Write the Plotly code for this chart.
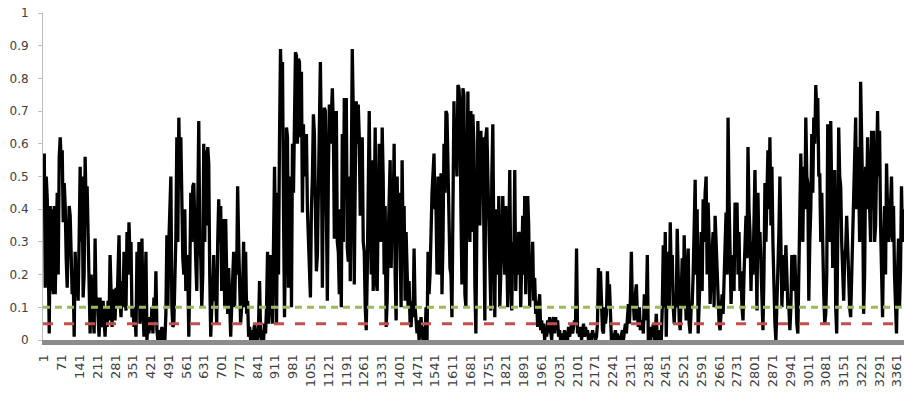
import numpy as np
import plotly.graph_objects as go

# Record length and category labels on the horizontal axis
N_RECORDS = 3386
CATEGORY_LABELS = list(range(1, 3362, 70))

# Series readings, evenly spaced across the record
VALUES = [
    0.57, 0.16, 0.5, 0.43, 0.25, 0.02, 0.41, 0.15, 0.4, 0.14,
    0.41, 0.14, 0.3, 0.45, 0.2, 0.56, 0.62, 0.55, 0.58, 0.36,
    0.48, 0.41, 0.25, 0.16, 0.3, 0.41, 0.38, 0.2, 0.14, 0.2,
    0.01, 0.27, 0.15, 0.21, 0.12, 0.31, 0.53, 0.3, 0.5, 0.13,
    0.2, 0.56, 0.4, 0.47, 0.3, 0.25, 0.02, 0.2, 0.14, 0.05,
    0.02, 0.31, 0.1, 0.13, 0.05, 0.01, 0.13, 0.05, 0.04, 0.12,
    0.06, 0.01, 0.1, 0.04, 0.12, 0.06, 0.26, 0.08, 0.04, 0.15,
    0.15, 0.06, 0.16, 0.1, 0.2, 0.32, 0.12, 0.07, 0.18, 0.1,
    0.27, 0.12, 0.09, 0.33, 0.2, 0.36, 0.25, 0.3, 0.07, 0.1,
    0.04, 0.08, 0.01, 0.27, 0.1, 0.3, 0.05, 0.2, 0.31, 0.1,
    0.01, 0.12, 0.27, 0.0, 0.05, 0.02, 0.07, 0.03, 0.1, 0.02,
    0.13, 0.06, 0.21, 0.03, 0.0, 0.03, 0.0, 0.02, 0.04, 0.0,
    0.02, 0.0, 0.08, 0.32, 0.1, 0.3, 0.4, 0.5, 0.1, 0.04,
    0.05, 0.2, 0.31, 0.62, 0.3, 0.68, 0.5, 0.62, 0.41, 0.25,
    0.2, 0.4, 0.15, 0.26, 0.2, 0.01, 0.2, 0.45, 0.3, 0.47,
    0.48, 0.3, 0.24, 0.15, 0.45, 0.67, 0.3, 0.25, 0.1, 0.2,
    0.6, 0.3, 0.58, 0.35, 0.59, 0.54, 0.2, 0.01, 0.1, 0.15,
    0.26, 0.12, 0.15, 0.05, 0.3, 0.43, 0.3, 0.41, 0.15, 0.25,
    0.37, 0.1, 0.37, 0.2, 0.08, 0.22, 0.05, 0.01, 0.1, 0.22,
    0.27, 0.1, 0.26, 0.2, 0.47, 0.3, 0.12, 0.05, 0.1, 0.16,
    0.3, 0.1, 0.27, 0.08, 0.12, 0.01, 0.04, 0.0, 0.03, 0.0,
    0.02, 0.05, 0.0, 0.02, 0.0, 0.05, 0.18, 0.02, 0.0, 0.03,
    0.0, 0.05, 0.02, 0.1, 0.27, 0.05, 0.2, 0.26, 0.1, 0.05,
    0.3, 0.53, 0.3, 0.05, 0.45, 0.2, 0.62, 0.89, 0.75, 0.85,
    0.4, 0.07, 0.3, 0.65, 0.62, 0.16, 0.4, 0.5, 0.1, 0.6,
    0.45, 0.7, 0.88, 0.87, 0.6, 0.86, 0.85, 0.62, 0.82, 0.39,
    0.66, 0.5, 0.6, 0.63, 0.4, 0.3, 0.16, 0.13, 0.4, 0.5,
    0.69, 0.63, 0.4, 0.21, 0.26, 0.5, 0.7, 0.85, 0.6, 0.16,
    0.5, 0.71, 0.7, 0.4, 0.12, 0.5, 0.72, 0.6, 0.73, 0.77,
    0.66, 0.31, 0.5, 0.7, 0.3, 0.27, 0.14, 0.4, 0.1, 0.63,
    0.3, 0.74, 0.5, 0.74, 0.28, 0.24, 0.5, 0.18, 0.5, 0.89,
    0.7, 0.17, 0.5, 0.73, 0.6, 0.72, 0.62, 0.38, 0.5, 0.62,
    0.3, 0.27, 0.1, 0.03, 0.2, 0.5, 0.7, 0.4, 0.2, 0.55,
    0.15, 0.4, 0.65, 0.18, 0.15, 0.4, 0.6, 0.45, 0.3, 0.65,
    0.5, 0.2, 0.41, 0.04, 0.12, 0.3, 0.5, 0.55, 0.22, 0.4,
    0.38, 0.6, 0.2, 0.06, 0.5, 0.3, 0.45, 0.2, 0.1, 0.55,
    0.3, 0.41, 0.12, 0.33, 0.2, 0.1, 0.18, 0.05, 0.04, 0.12,
    0.07, 0.28, 0.1, 0.05, 0.02, 0.06, 0.0, 0.03, 0.07, 0.02,
    0.0, 0.04, 0.0, 0.1, 0.0, 0.27, 0.14, 0.2, 0.35, 0.45,
    0.51, 0.57, 0.4, 0.41, 0.2, 0.5, 0.3, 0.2, 0.51, 0.14,
    0.3, 0.6, 0.45, 0.7, 0.69, 0.55, 0.3, 0.22, 0.2, 0.07,
    0.4, 0.73, 0.55, 0.6, 0.5, 0.78, 0.77, 0.72, 0.4, 0.17,
    0.77, 0.75, 0.14, 0.1, 0.5, 0.76, 0.43, 0.3, 0.7, 0.33,
    0.69, 0.6, 0.17, 0.02, 0.35, 0.67, 0.5, 0.35, 0.64, 0.5,
    0.62, 0.3, 0.06, 0.62, 0.65, 0.5, 0.33, 0.2, 0.09, 0.5,
    0.66, 0.3, 0.07, 0.4, 0.31, 0.2, 0.44, 0.1, 0.2, 0.33,
    0.44, 0.31, 0.2, 0.41, 0.3, 0.1, 0.3, 0.52, 0.2, 0.09,
    0.3, 0.22, 0.52, 0.15, 0.28, 0.2, 0.33, 0.32, 0.1, 0.22,
    0.38, 0.2, 0.44, 0.14, 0.3, 0.44, 0.35, 0.1, 0.23, 0.16,
    0.3, 0.12, 0.19, 0.08, 0.12, 0.04, 0.1, 0.14, 0.03, 0.06,
    0.02, 0.05, 0.0, 0.04, 0.01, 0.06, 0.02, 0.07, 0.03, 0.0,
    0.05, 0.07, 0.02, 0.07, 0.04, 0.06, 0.01, 0.03, 0.0, 0.02,
    0.0, 0.01, 0.03, 0.0, 0.02, 0.0, 0.04, 0.01, 0.03, 0.05,
    0.02, 0.04, 0.06, 0.05, 0.28, 0.02, 0.03, 0.01, 0.04, 0.0,
    0.03, 0.05, 0.01, 0.04, 0.02, 0.03, 0.0, 0.02, 0.01, 0.0,
    0.03, 0.01, 0.02, 0.0, 0.01, 0.05, 0.22, 0.1, 0.21, 0.08,
    0.03, 0.02, 0.1, 0.05, 0.08, 0.21, 0.1, 0.17, 0.05, 0.0,
    0.02, 0.0, 0.01, 0.03, 0.0, 0.02, 0.0, 0.01, 0.0, 0.02,
    0.03, 0.0, 0.04, 0.05, 0.02, 0.06, 0.11, 0.05, 0.12, 0.27,
    0.1, 0.11, 0.06, 0.14, 0.17, 0.08, 0.04, 0.1, 0.03, 0.06,
    0.05, 0.02, 0.14, 0.06, 0.1, 0.26, 0.0, 0.03, 0.0, 0.04,
    0.01, 0.05, 0.0, 0.02, 0.08, 0.0, 0.03, 0.0, 0.02, 0.0,
    0.1, 0.29, 0.1, 0.33, 0.01, 0.2, 0.27, 0.1, 0.36, 0.2,
    0.26, 0.1, 0.05, 0.14, 0.1, 0.34, 0.15, 0.06, 0.03, 0.15,
    0.25, 0.1, 0.32, 0.15, 0.06, 0.2, 0.28, 0.05, 0.02, 0.1,
    0.11, 0.2, 0.35, 0.49, 0.2, 0.4, 0.02, 0.1, 0.2, 0.33,
    0.15, 0.43, 0.3, 0.45, 0.5, 0.2, 0.42, 0.3, 0.11, 0.2,
    0.25, 0.33, 0.1, 0.38, 0.3, 0.22, 0.1, 0.05, 0.03, 0.1,
    0.14, 0.08, 0.2, 0.26, 0.39, 0.2, 0.68, 0.43, 0.3, 0.11,
    0.2, 0.26, 0.15, 0.42, 0.3, 0.42, 0.2, 0.33, 0.15, 0.21,
    0.1, 0.06, 0.2, 0.3, 0.38, 0.25, 0.59, 0.4, 0.33, 0.15,
    0.3, 0.2, 0.35, 0.52, 0.3, 0.09, 0.45, 0.25, 0.33, 0.2,
    0.1, 0.03, 0.2, 0.48, 0.3, 0.4, 0.58, 0.4, 0.62, 0.35,
    0.53, 0.3, 0.14, 0.05, 0.0, 0.1, 0.2, 0.33, 0.5, 0.3,
    0.1, 0.2, 0.26, 0.15, 0.29, 0.2, 0.1, 0.1, 0.03, 0.1,
    0.26, 0.15, 0.25, 0.26, 0.1, 0.05, 0.02, 0.2, 0.3, 0.57,
    0.4, 0.3, 0.53, 0.4, 0.68, 0.5, 0.48, 0.12, 0.3, 0.4,
    0.63, 0.45, 0.68, 0.6, 0.78, 0.7, 0.74, 0.5, 0.51, 0.3,
    0.45, 0.2, 0.14, 0.05, 0.08, 0.2, 0.66, 0.4, 0.3, 0.67,
    0.5, 0.22, 0.35, 0.52, 0.1, 0.02, 0.3, 0.65, 0.5, 0.47,
    0.3, 0.2, 0.12, 0.25, 0.28, 0.38, 0.3, 0.16, 0.1, 0.07,
    0.2, 0.25, 0.38, 0.5, 0.68, 0.4, 0.59, 0.5, 0.3, 0.79,
    0.64, 0.45, 0.08, 0.2, 0.53, 0.4, 0.62, 0.5, 0.48, 0.3,
    0.64, 0.4, 0.64, 0.3, 0.35, 0.6, 0.7, 0.5, 0.64, 0.35,
    0.2, 0.07, 0.3, 0.41, 0.2, 0.54, 0.4, 0.3, 0.33, 0.45,
    0.5, 0.3, 0.41, 0.2, 0.05, 0.02, 0.2, 0.31, 0.1, 0.21,
    0.47, 0.3, 0.4,
]

# Reference thresholds
UPPER_THRESHOLD = 0.10
LOWER_THRESHOLD = 0.05

record = np.linspace(1, N_RECORDS, len(VALUES))
x_span = [-4, 3388]
TEXT_COLOR = "#404040"

fig = go.Figure()

fig.add_trace(go.Scatter(
    x=record, y=VALUES, mode="lines",
    line=dict(color="black", width=3.3),
    showlegend=False, hoverinfo="skip",
))

fig.add_trace(go.Scatter(
    x=x_span, y=[UPPER_THRESHOLD] * 2, mode="lines",
    line=dict(color="#9BBB59", width=3, dash="7px,5px"),
    showlegend=False, hoverinfo="skip",
))

fig.add_trace(go.Scatter(
    x=x_span, y=[LOWER_THRESHOLD] * 2, mode="lines",
    line=dict(color="#C0504D", width=3, dash="10px,11px"),
    showlegend=False, hoverinfo="skip",
))

fig.update_layout(
    width=904, height=393,
    margin=dict(l=43, r=0, t=13, b=53),
    paper_bgcolor="white", plot_bgcolor="white",
    font=dict(family="DejaVu Sans", color=TEXT_COLOR),
    xaxis=dict(
        range=x_span,
        tickmode="array",
        tickvals=CATEGORY_LABELS,
        ticktext=[str(v) for v in CATEGORY_LABELS],
        tickangle=-90,
        tickfont=dict(family="DejaVu Sans", size=13, color=TEXT_COLOR),
        ticks="", ticklabelstandoff=4,
        ticklabeloverflow="allow",
        showgrid=False, zeroline=False,
        showline=True, linecolor="#8C8C8C", linewidth=5,
    ),
    yaxis=dict(
        range=[0, 1],
        tickmode="array",
        tickvals=[i / 10 for i in range(11)],
        ticktext=["0", "0.1", "0.2", "0.3", "0.4", "0.5", "0.6", "0.7", "0.8", "0.9", "1"],
        tickfont=dict(size=12, color=TEXT_COLOR),
        ticks="outside", ticklen=4, tickcolor="#BFBFBF",
        ticklabelstandoff=7,
        showgrid=False, zeroline=False,
        showline=True, linecolor="#BFBFBF", linewidth=1,
    ),
)

fig.write_html("out.html")
